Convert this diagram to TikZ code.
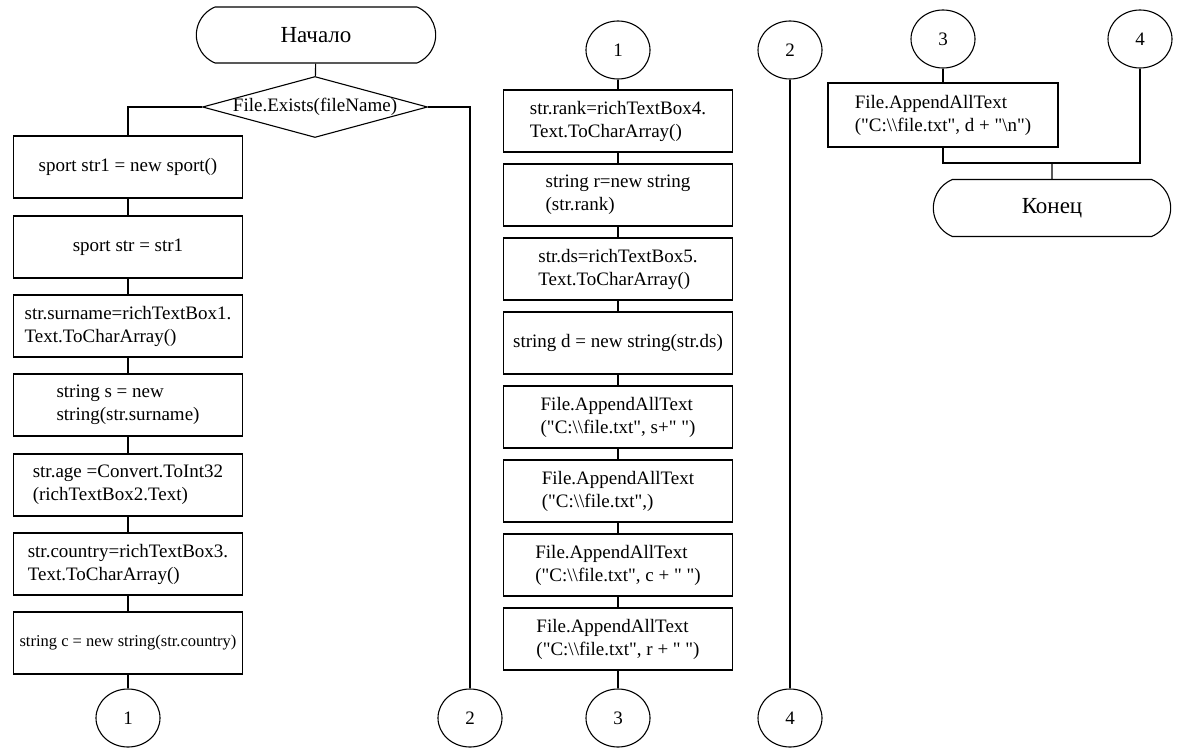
\documentclass[tikz,border=0pt]{standalone}
\usepackage{fontspec}
\setmainfont{Liberation Serif}[Ligatures=TeXOff]
\usepackage{tikz}
\usetikzlibrary{shapes.geometric,shapes.misc}

\newcommand{\bs}{\textbackslash}

\begin{document}
\begin{tikzpicture}[
            x = 1pt, y = -1pt, % pixel units, y going down
            line width = 1.1pt, % line style
            every node/.style = {font=\fontsize{19}{23}\selectfont},
            term/.style = {shape=rounded rectangle, rounded rectangle arc length=135, draw=black, minimum width=246pt, minimum height=56pt, font=\fontsize{23}{27}\selectfont},
            proc/.style = {shape=rectangle, draw=black, align=left, minimum width=229pt, minimum height=62pt, inner sep=2pt},
            cond/.style = {shape=diamond, draw=black, minimum width=225pt, minimum height=61pt, inner sep=0pt},
            conn/.style = {shape=ellipse, draw=black, minimum width=64pt, minimum height=58pt, inner sep=0pt}
        ]
\useasboundingbox (0,0) rectangle (1177,749);

% first column
\node[term] (start) at (316,35) {Начало};
\node[cond, label=center:{File.Exists(fileName)}] (check) at (315,107) {};
\node[proc] (s1) at (128,167) {sport str1 = new sport()};
\node[proc] (s2) at (128,247) {sport str = str1};
\node[proc] (s3) at (128,326) {str.surname=richTextBox1.\\Text.ToCharArray()};
\node[proc] (s4) at (128,405) {string s = new\\string(str.surname)};
\node[proc] (s5) at (128,485) {str.age =Convert.ToInt32\\(richTextBox2.Text)};
\node[proc] (s6) at (128,564) {str.country=richTextBox3.\\Text.ToCharArray()};
\node[proc, font=\fontsize{16.5}{20}\selectfont] (s7) at (128,643) {string c = new string(str.country)};
\node[conn] (out1) at (128,718) {1};
\node[conn] (out2) at (470,718) {2};

% second column
\node[conn] (in1) at (618,50) {1};
\node[proc] (r1) at (618,121) {str.rank=richTextBox4.\\Text.ToCharArray()};
\node[proc] (r2) at (618,195) {string r=new string\\(str.rank)};
\node[proc] (r3) at (618,269) {str.ds=richTextBox5.\\Text.ToCharArray()};
\node[proc] (r4) at (618,343) {string d = new string(str.ds)};
\node[proc] (r5) at (618,417) {File.AppendAllText\\("C:\bs\bs file.txt", s+" ")};
\node[proc] (r6) at (618,491) {File.AppendAllText\\("C:\bs\bs file.txt",)};
\node[proc] (r7) at (618,565) {File.AppendAllText\\("C:\bs\bs file.txt", c + " ")};
\node[proc] (r8) at (618,639) {File.AppendAllText\\("C:\bs\bs file.txt", r + " ")};
\node[conn] (out3) at (618,718) {3};

% third column
\node[conn] (in2) at (790,50) {2};
\node[conn] (out4) at (790,718) {4};

% last column
\node[conn] (in3) at (943,39) {3};
\node[conn] (in4) at (1140,39) {4};
\node[proc, minimum width=230pt, minimum height=64pt] (last) at (943,115) {File.AppendAllText\\("C:\bs\bs file.txt", d + "\bs n")};
\node[term, minimum width=244pt, minimum height=57pt] (stop) at (1052,208) {Конец};
\coordinate (merge) at (1052,163);

 \path (start) edge (check);
 \draw (check.west) -| (s1.north);
 \draw (check.east) -| (out2.north);
 \path (s1) edge (s2);
 \path (s2) edge (s3);
 \path (s3) edge (s4);
 \path (s4) edge (s5);
 \path (s5) edge (s6);
 \path (s6) edge (s7);
 \path (s7) edge (out1);

 \path (in1) edge (r1);
 \path (r1) edge (r2);
 \path (r2) edge (r3);
 \path (r3) edge (r4);
 \path (r4) edge (r5);
 \path (r5) edge (r6);
 \path (r6) edge (r7);
 \path (r7) edge (r8);
 \path (r8) edge (out3);

 \path (in2) edge (out4);

 \path (in3) edge (last);
 \draw (last.south) |- (merge);
 \draw (in4.south) |- (merge);
 \path (merge) edge (stop);
\end{tikzpicture}
\end{document}
